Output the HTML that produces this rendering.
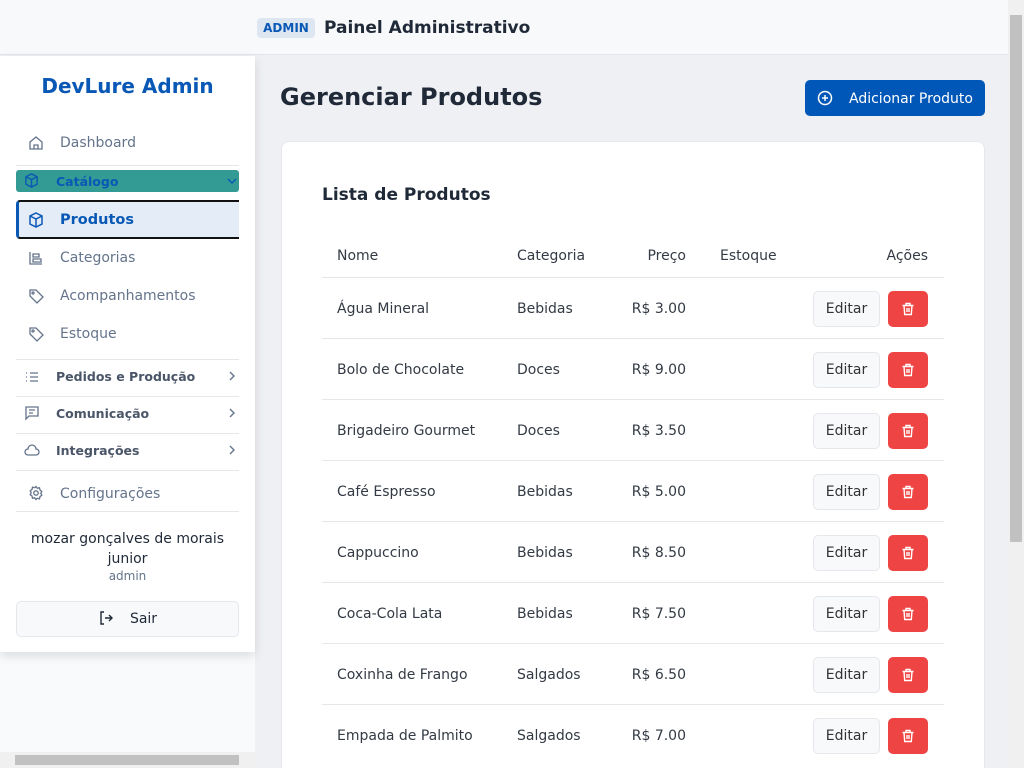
<!DOCTYPE html>
<html style="width:1024px;height:768px;overflow:hidden"><head><meta charset="utf-8"><style>
*{box-sizing:border-box;margin:0;padding:0}
body{width:1024px;height:768px;overflow:hidden;font-family:"DejaVu Sans","Liberation Sans",sans-serif;background:#eff0f4;position:relative;color:#1f2937}
.a{position:absolute}
.hdr{left:0;top:0;width:1008px;height:55px;background:#f8f9fb;border-bottom:1px solid #e2e5ea}
.side{left:0;top:56px;width:255px;height:596px;background:#fff;box-shadow:0 4px 10px rgba(0,0,0,.12)}
.sep{position:absolute;left:16px;width:223px;height:1px;background:#e5e7eb}
.it{position:absolute;left:60px;font-size:14px;color:#64748b;line-height:16px}
.ic{position:absolute;left:28px;width:16px;height:16px}
.grp{position:absolute;left:56px;font-size:12.5px;font-weight:bold;color:#4a5568;line-height:16px}
.chev{position:absolute;left:226px;width:12px;height:12px}
.t{position:absolute;font-size:14px;color:#333a44;line-height:16px}
.row{position:absolute;left:322px;width:622px;height:1px;background:#e5e7eb}
.ed{position:absolute;left:813px;width:67px;height:36px;background:#f8f9fb;border:1px solid #e5e7eb;border-radius:5px;font-size:14px;color:#333;text-align:center;line-height:34px}
.del{position:absolute;left:888px;width:40px;height:36px;background:#ef4444;border-radius:5px}
</style></head><body>
<div class="a hdr"></div>
<div class="a" style="left:257px;top:18px;width:58px;height:20px;background:#dde6f1;border-radius:4px;color:#0a58b5;font-size:12px;font-weight:bold;text-align:center;line-height:20px">ADMIN</div>
<div class="a" style="left:324px;top:18px;font-size:17px;font-weight:bold;color:#1f2937">Painel Administrativo</div>
<div class="a" style="left:0;top:652px;width:255px;height:100px;background:#f8fafc"></div>
<div class="a" style="left:281px;top:141px;width:704px;height:640px;background:#fff;border-radius:8px;border:1px solid #e5e7eb"></div>
<div class="a" style="left:1008px;top:0;width:16px;height:768px;background:#f0f0f0"></div>
<div class="a" style="left:1010px;top:15px;width:12px;height:527px;background:#c1c1c1"></div>
<div class="a" style="left:0;top:752px;width:255px;height:16px;background:#f0f0f0"></div>
<div class="a" style="left:15px;top:755px;width:224px;height:10px;background:#c1c1c1"></div>

<div class="a side">
<div class="a" style="left:0;top:18px;width:255px;text-align:center;font-size:20px;font-weight:bold;color:#0a58b5">DevLure Admin</div>
<svg class="ic" style="top:79px" viewBox="0 0 16 16" fill="none" stroke="#64748b" stroke-width="1.3"><path d="M2 7l6-5 6 5v7H2z M6 14v-4h4v4"/></svg>
<div class="it" style="top:79px">Dashboard</div>
<div class="sep" style="top:109px"></div>
<div class="a" style="left:16px;top:114px;width:223px;height:22px;background:#339a94;border-radius:3px"></div>
<svg class="a" style="left:24px;top:117px;width:15px;height:15px" viewBox="0 0 16 16" fill="none" stroke="#0a58b5" stroke-width="1.5"><path d="M8 1l6 3v8l-6 3-6-3V4z M2 4l6 3 6-3 M8 7v8"/></svg>
<div class="grp" style="top:118px;color:#0a58b5">Catálogo</div>
<svg class="chev" style="top:119px" viewBox="0 0 12 12" fill="none" stroke="#0a58b5" stroke-width="1.4"><path d="M2 4l4 4 4-4"/></svg>
<div class="a" style="left:16px;top:144px;width:223px;height:39px;background:#e3ecf7;border-top:2px solid #111;border-bottom:2px solid #111;border-left:3px solid #0a58b5;border-radius:4px 0 0 4px"></div>
<svg class="ic" style="top:156px" viewBox="0 0 16 16" fill="none" stroke="#0a58b5" stroke-width="1.5"><path d="M8 1l6 3v8l-6 3-6-3V4z M2 4l6 3 6-3 M8 7v8"/></svg>
<div class="it" style="top:156px;font-weight:bold;color:#0a58b5;font-size:14.5px">Produtos</div>
<svg class="ic" style="top:194px" viewBox="0 0 16 16" fill="none" stroke="#64748b" stroke-width="1.3"><path d="M2 2v12h12 M5 4h6v3H5z M5 9h8v3H5z"/></svg>
<div class="it" style="top:194px">Categorias</div>
<svg class="ic" style="top:232px" viewBox="0 0 16 16" fill="none" stroke="#64748b" stroke-width="1.3"><path d="M2 2h6l7 7-6 6-7-7z"/><circle cx="5" cy="5" r="1"/></svg>
<div class="it" style="top:232px">Acompanhamentos</div>
<svg class="ic" style="top:270px" viewBox="0 0 16 16" fill="none" stroke="#64748b" stroke-width="1.3"><path d="M2 2h6l7 7-6 6-7-7z"/><circle cx="5" cy="5" r="1"/></svg>
<div class="it" style="top:270px">Estoque</div>
<div class="sep" style="top:303px"></div>
<svg class="a" style="left:24px;top:313px;width:16px;height:16px" viewBox="0 0 16 16" fill="none" stroke="#64748b" stroke-width="1.3"><path d="M2 4h1 M6 4h8 M2 8h1 M6 8h8 M2 12h1 M6 12h8"/></svg>
<div class="grp" style="top:313px">Pedidos e Produção</div>
<svg class="chev" style="top:314px" viewBox="0 0 12 12" fill="none" stroke="#64748b" stroke-width="1.4"><path d="M4 2l4 4-4 4"/></svg>
<div class="sep" style="top:340px"></div>
<svg class="a" style="left:24px;top:349px;width:16px;height:16px" viewBox="0 0 16 16" fill="none" stroke="#64748b" stroke-width="1.3"><path d="M2 2h12v9H5l-3 3z M5 5h6 M5 8h4"/></svg>
<div class="grp" style="top:350px">Comunicação</div>
<svg class="chev" style="top:351px" viewBox="0 0 12 12" fill="none" stroke="#64748b" stroke-width="1.4"><path d="M4 2l4 4-4 4"/></svg>
<div class="sep" style="top:377px"></div>
<svg class="a" style="left:24px;top:386px;width:16px;height:16px" viewBox="0 0 16 16" fill="none" stroke="#64748b" stroke-width="1.3"><path d="M4 13h8a3 3 0 000-6 4 4 0 00-8 0 3 3 0 000 6z"/></svg>
<div class="grp" style="top:387px">Integrações</div>
<svg class="chev" style="top:388px" viewBox="0 0 12 12" fill="none" stroke="#64748b" stroke-width="1.4"><path d="M4 2l4 4-4 4"/></svg>
<div class="sep" style="top:414px"></div>
<svg class="ic" style="top:429px" viewBox="0 0 16 16" fill="none" stroke="#64748b" stroke-width="1.3"><circle cx="8" cy="8" r="2.2"/><path d="M8 1.5l1.3 1.8 2.2-.5.5 2.2 1.8 1.3-1 2 1 2-1.8 1.3-.5 2.2-2.2-.5L8 14.5l-1.3-1.8-2.2.5-.5-2.2L2.2 9.7l1-2-1-2 1.8-1.3.5-2.2 2.2.5z"/></svg>
<div class="it" style="top:430px">Configurações</div>
<div class="sep" style="top:455px"></div>
<div class="a" style="left:0;top:473px;width:255px;text-align:center;font-size:14px;line-height:20px;color:#1f2937">mozar gonçalves de morais<br>junior</div>
<div class="a" style="left:0;top:513px;width:255px;text-align:center;font-size:12px;color:#64748b">admin</div>
<div class="a" style="left:16px;top:545px;width:223px;height:36px;background:#f8f9fb;border:1px solid #e5e7eb;border-radius:5px;text-align:center;line-height:34px;font-size:14px;color:#1f2937"><svg style="vertical-align:-3px;margin-right:16px" width="16" height="16" viewBox="0 0 16 16" fill="none" stroke="#1f2937" stroke-width="1.4"><path d="M6 2H3v12h3 M7 8h7 M11 5l3 3-3 3"/></svg>Sair</div>
</div>

<div class="a" style="left:280px;top:83px;font-size:24px;font-weight:bold;color:#1f2937">Gerenciar Produtos</div>
<div class="a" style="left:805px;top:80px;width:180px;height:36px;background:#0057b7;border-radius:5px;color:#fff;font-size:14px;line-height:36px"><svg style="position:absolute;left:12px;top:10px" width="16" height="16" viewBox="0 0 16 16" fill="none" stroke="#fff" stroke-width="1.5"><circle cx="8" cy="8" r="6.5"/><path d="M8 5v6 M5 8h6"/></svg><span style="position:absolute;left:44px;top:1px">Adicionar Produto</span></div>
<div class="a" style="left:322px;top:185px;font-size:17px;font-weight:bold;color:#1f2937">Lista de Produtos</div>
<div class="t" style="left:337px;top:248px">Nome</div>
<div class="t" style="left:517px;top:248px">Categoria</div>
<div class="t" style="left:600px;width:86px;text-align:right;top:248px">Preço</div>
<div class="t" style="left:720px;top:248px">Estoque</div>
<div class="t" style="left:850px;width:78px;text-align:right;top:248px">Ações</div>
<div class="row" style="top:277px"></div>
<div id="rows"></div>
<script>
var d=[["Água Mineral","Bebidas","3.00"],["Bolo de Chocolate","Doces","9.00"],["Brigadeiro Gourmet","Doces","3.50"],["Café Espresso","Bebidas","5.00"],["Cappuccino","Bebidas","8.50"],["Coca-Cola Lata","Bebidas","7.50"],["Coxinha de Frango","Salgados","6.50"],["Empada de Palmito","Salgados","7.00"]];
var h="",trash='<svg style="position:absolute;left:13px;top:11px" width="14" height="14" viewBox="0 0 14 14" fill="none" stroke="#fff" stroke-width="1.4"><path d="M1.5 3.5h11 M5 3.5V1.5h4v2 M3 3.5l.7 9h6.6l.7-9 M6 6v4 M8 6v4"/></svg>';
d.forEach(function(r,i){var y=278+i*61;
h+='<div class="t" style="left:337px;top:'+(y+23)+'px">'+r[0]+'</div><div class="t" style="left:517px;top:'+(y+23)+'px">'+r[1]+'</div><div class="t" style="left:600px;width:86px;text-align:right;top:'+(y+23)+'px">R$ '+r[2]+'</div><div class="ed" style="top:'+(y+13)+'px">Editar</div><div class="del" style="top:'+(y+13)+'px">'+trash+'</div>'+(i<7?'<div class="row" style="top:'+(y+60)+'px"></div>':'');});
document.getElementById("rows").innerHTML=h;
</script>
</body></html>
